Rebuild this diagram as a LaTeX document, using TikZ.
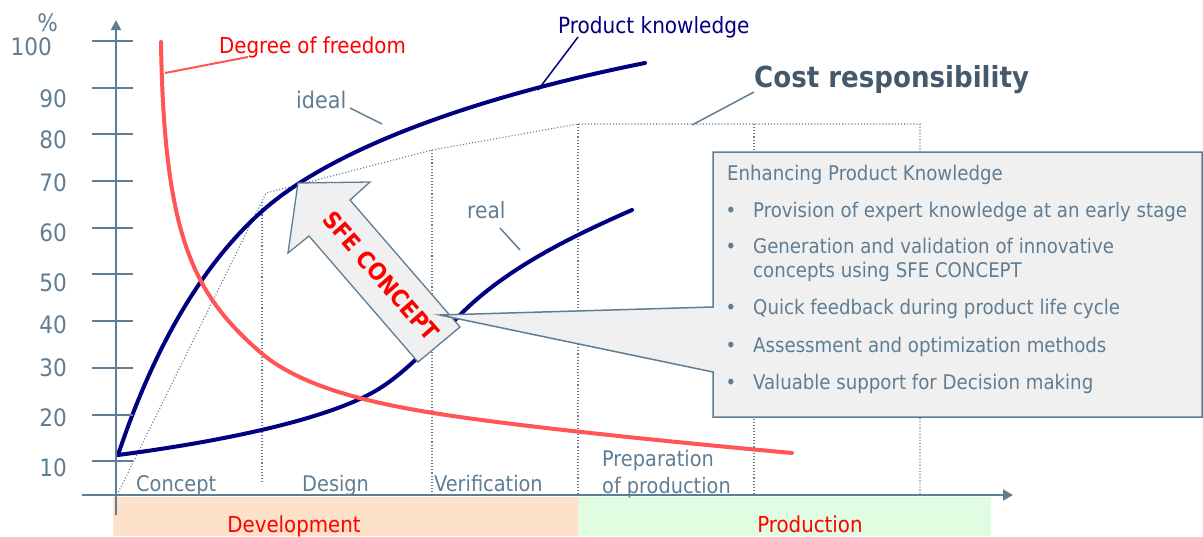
\documentclass[tikz,border=0pt]{standalone}
\usepackage{fontspec}
\setmainfont{DejaVu Sans Condensed}
\usetikzlibrary{arrows.meta}
\definecolor{slate}{HTML}{5F7D93}
\definecolor{darkslate}{HTML}{44596B}
\definecolor{navyc}{HTML}{000080}
\definecolor{redc}{HTML}{FF5555}
\definecolor{redt}{HTML}{FF0000}
\definecolor{boxfill}{HTML}{F0F0F0}
\definecolor{peach}{HTML}{FDE1C9}
\definecolor{mint}{HTML}{E1FDE1}
\begin{document}
\begin{tikzpicture}[x=1pt,y=-1pt,
  axisline/.style={draw=slate, line width=2pt},
  tickline/.style={draw=slate, line width=1.8pt},
  num/.style={anchor=base east, text=slate, font=\fontsize{24}{28}\selectfont, inner sep=0pt},
  phase/.style={anchor=base west, text=slate, font=\fontsize{21.5}{26}\selectfont, inner sep=0pt},
  dots/.style={draw=slate, line width=1.1pt, dash pattern=on 1.1pt off 2pt},
  curve/.style={line width=4pt, line cap=round},
  leader/.style={line width=1.5pt},
  boxtxt/.style={anchor=base west, text=slate, font=\fontsize{20.2}{24}\selectfont, inner sep=0pt},
  bul/.style={anchor=base, text=slate, font=\fontsize{20}{24}\selectfont, inner sep=0pt},
  bandtxt/.style={anchor=base, text=redt, font=\fontsize{22}{26}\selectfont, inner sep=0pt},
]
\useasboundingbox (0,0) rectangle (1203,536);

% bands
\fill[peach] (113,497) rectangle (578,536);
\fill[mint] (578,497) rectangle (991,536);
\node[bandtxt] (dev) at (294,532) {Development};
\node[bandtxt] (prod) at (810,532) {Production};

% dotted cost responsibility lines
\draw[dots] (117,495) -- (266,193) -- (432,150) -- (578,124) -- (920,124) -- (920,495);
\draw[dots] (262,202) -- (262,484);
\draw[dots] (432,150) -- (432,495);
\draw[dots] (578,124) -- (578,495);
\draw[dots] (754,124) -- (754,495);

% curves
\draw[curve, navyc] (118,455) .. controls (156,341) and (205,263) .. (260,213)
                    .. controls (330,149) and (475,97) .. (645,63);
\draw[curve, navyc] (118,455) .. controls (218,442) and (327,420) .. (377,390)
                    .. controls (407,372) and (434,341) .. (462,313)
                    .. controls (508,267) and (575,235) .. (632,210);
\draw[curve, redc] (161,42) .. controls (164,240) and (195,295) .. (260,352)
                   .. controls (300,387) and (370,401.5) .. (410,409)
                   .. controls (490,424) and (672,442) .. (792,453);

% axes
\draw[axisline, -{Triangle[width=10pt,length=10pt]}] (116,515) -- (116,20);
\draw[axisline, -{Triangle[width=11pt,length=10pt]}] (82,495) -- (1013,495);
\foreach \y in {41,88,134,181,228,274,321,368,415,461} \draw[tickline] (92,\y) -- (133,\y);
\node[num] (pct) at (58,31) {\%};
\node[num] (n100) at (52,55) {100};
\node[num] (n90) at (67,107) {90};
\node[num] (n80) at (67,148) {80};
\node[num] (n70) at (67,191) {70};
\node[num] (n60) at (67,241) {60};
\node[num] (n50) at (67,291) {50};
\node[num] (n40) at (67,333) {40};
\node[num] (n30) at (67,376) {30};
\node[num] (n20) at (67,426) {20};
\node[num] (n10) at (67,476) {10};

% phases
\node[phase] (concept) at (136,491) {Concept};
\node[phase] (design) at (302,491) {Design};
\node[phase] (verif) at (434,491) {Verification};
\node[phase] (prep1) at (602,466) {Preparation};
\node[phase] (prep2) at (602,493) {of production};

% SFE arrow
\filldraw[fill=boxfill, draw=slate, line width=1.3pt] (298,183) -- (370,182) -- (350,200) -- (460,327) -- (418,362) -- (309,236) -- (288,253) -- cycle;
\node[rotate=-48.9, text=redt, font=\bfseries\fontsize{23.5}{26}\selectfont, inner sep=0pt] (sfe) at (381,276) {SFE CONCEPT};

% callout
\filldraw[fill=boxfill, draw=slate, line width=1.5pt] (713,152) -- (1202,152) -- (1202,417) -- (713,417) -- (713,372) -- (440,315) -- (713,307) -- cycle;
\node[boxtxt] (bt) at (727,180) {Enhancing Product Knowledge};
\node[bul] (b1) at (731,217) {•};
\node[boxtxt] (t1) at (753,217) {Provision of expert knowledge at an early stage};
\node[bul] (b2) at (731,253) {•};
\node[boxtxt] (t2) at (753,253) {Generation and validation of innovative};
\node[boxtxt] (t2b) at (753,277) {concepts using SFE CONCEPT};
\node[bul] (b3) at (731,314) {•};
\node[boxtxt] (t3) at (753,314) {Quick feedback during product life cycle};
\node[bul] (b4) at (731,352) {•};
\node[boxtxt] (t4) at (753,352) {Assessment and optimization methods};
\node[bul] (b5) at (731,389) {•};
\node[boxtxt] (t5) at (753,389) {Valuable support for Decision making};

% labels and leaders
\node[anchor=base west, text=redt, font=\fontsize{22}{26}\selectfont, inner sep=0pt] (dof) at (219,53) {Degree of freedom};
\coordinate (dofa) at (248,57); \coordinate (dofb) at (165,73);
\draw[leader, redc, line width=2pt] (dofa) -- (dofb);

\node[anchor=base west, text=navyc, font=\fontsize{22.3}{26}\selectfont, inner sep=0pt] (pk) at (558,33) {Product knowledge};
\coordinate (pka) at (578,37); \coordinate (pkb) at (538,90);
\draw[leader, navyc] (pka) -- (pkb);

\node[anchor=base west, text=slate, font=\fontsize{23}{27}\selectfont, inner sep=0pt] (ideal) at (296,108) {ideal};
\coordinate (ida) at (350,108); \coordinate (idb) at (382,124);
\draw[leader, slate] (ida) -- (idb);

\node[anchor=base west, text=slate, font=\fontsize{22.5}{26}\selectfont, inner sep=0pt] (real) at (467,218) {real};
\coordinate (rea) at (500,228); \coordinate (reb) at (520,250);
\draw[leader, slate] (rea) -- (reb);

\node[anchor=base west, text=darkslate, font=\bfseries\fontsize{29}{34}\selectfont, inner sep=0pt] (cost) at (754,87) {Cost responsibility};
\coordinate (csa) at (754,92); \coordinate (csb) at (692,125);
\draw[leader, slate] (csa) -- (csb);
\end{tikzpicture}
\end{document}
